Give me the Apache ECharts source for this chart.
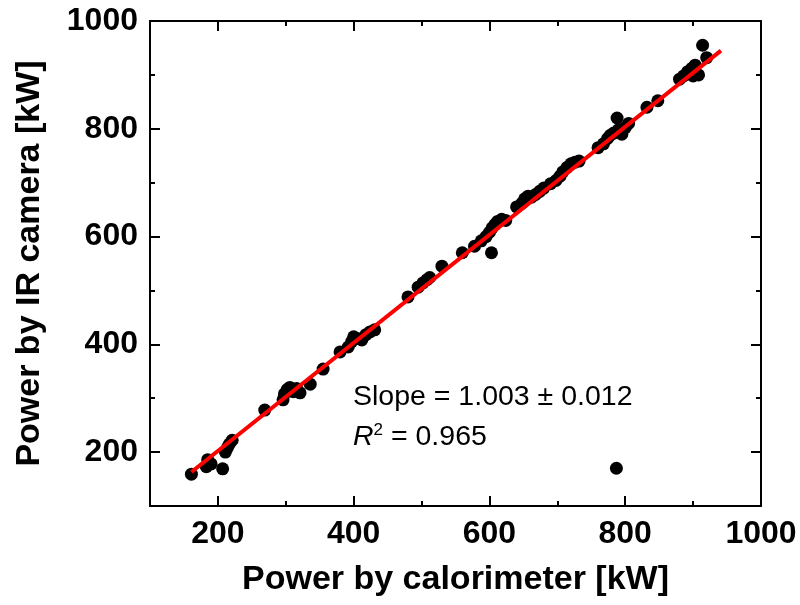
<!DOCTYPE html>
<html><head><meta charset="utf-8">
<script src="https://cdn.jsdelivr.net/npm/echarts@6/dist/echarts.min.js"></script>
<style>html,body{margin:0;padding:0;background:#fff}#c{width:800px;height:605px}</style>
</head><body><div id="c"></div>
<script>
// Measured points: power by calorimeter (x) vs power by IR camera (y), kW
const calorimeterKW = [161,183,185,190,207,211,214,217,221,269,296,298,302,306,311,316,321,336,355,380,392,397,400,405,412,418,424,431,480,495,502,508,512,530,560,578,588,595,600,604,608,612,618,624,603,640,648,652,657,662,668,674,680,690,698,704,708,714,720,726,732,760,768,774,778,783,788,790,795,800,805,787,832,848,880,886,892,898,903,908,914,920,900];
const irCameraKW   = [159,173,186,178,169,200,208,215,222,278,297,308,316,320,312,318,310,326,354,386,395,405,414,411,408,418,423,427,488,506,514,520,524,545,570,582,592,600,608,616,622,628,632,630,570,655,662,670,675,673,678,684,690,698,704,712,720,728,735,738,740,765,772,782,788,792,820,798,790,802,810,170,840,852,892,898,906,912,918,900,955,932,898];
// Linear fit line end points
const fitX = [161, 941];
const fitY = [163, 945];
// Axis ticks
const majorTicks = [200, 400, 600, 800, 1000];
const minorTicks = [300, 500, 700, 900];
const axisMin = 100, axisMax = 1000;
const xTitle = 'Power by calorimeter [kW]';
const yTitle = 'Power by IR camera [kW]';
const slopeText = 'Slope = 1.003 \u00b1 0.012';
const r2Value = '0.965';

const FONT = '"Liberation Sans", Arial, Helvetica, sans-serif';
const chart = echarts.init(document.getElementById('c'), null, {renderer: 'canvas'});

function mkAxis(pos, ticks, len, showLabel, showLine, extra) {
  return Object.assign({
    type: 'value', position: pos, min: axisMin, max: axisMax,
    axisLine: {show: showLine, onZero: false, lineStyle: {color: '#000', width: 2}},
    axisTick: {show: true, inside: true, length: len, customValues: ticks, lineStyle: {color: '#000', width: 2}},
    axisLabel: {show: showLabel, customValues: ticks, formatter: v => String(v), color: '#000',
      fontFamily: FONT, fontWeight: 'bold', fontSize: 32, margin: 12},
    splitLine: {show: false}
  }, extra || {});
}

const fitData = fitX.map((x, i) => [x, fitY[i]]);
const pts = calorimeterKW.map((x, i) => [x, irCameraKW[i]]);

chart.setOption({
  animation: false,
  backgroundColor: '#fff',
  grid: {left: 150, right: 39, top: 21, bottom: 99, containLabel: false},
  xAxis: [
    mkAxis('bottom', majorTicks, 10, true, true, {name: xTitle, nameLocation: 'middle', nameGap: 57,
      nameTextStyle: {color: '#000', fontFamily: FONT, fontWeight: 'bold', fontSize: 34}}),
    mkAxis('bottom', minorTicks, 5, false, false),
    mkAxis('top', majorTicks, 10, false, true),
    mkAxis('top', minorTicks, 5, false, false)
  ],
  yAxis: [
    mkAxis('left', majorTicks, 10, true, true, {name: yTitle, nameLocation: 'middle', nameGap: 103,
      nameTextStyle: {color: '#000', fontFamily: FONT, fontWeight: 'bold', fontSize: 34}}),
    mkAxis('left', minorTicks, 5, false, false),
    mkAxis('right', majorTicks, 10, false, true),
    mkAxis('right', minorTicks, 5, false, false)
  ],
  series: [
    {type: 'scatter', xAxisIndex: 0, yAxisIndex: 0, data: pts, symbolSize: 13,
     itemStyle: {color: '#000', opacity: 1}, z: 2},
    {type: 'line', xAxisIndex: 0, yAxisIndex: 0, data: fitData, showSymbol: false, symbol: 'none',
     lineStyle: {color: '#ff0000', width: 4}, z: 3}
  ],
  graphic: [
    {type: 'text', left: 353, top: 383, style: {text: slopeText, fontFamily: FONT, fontSize: 28.5, fill: '#000'}},
    {type: 'text', left: 353, top: 422, style: {
      text: '{i|R}{s|2}{n| = ' + r2Value + '}',
      rich: {
        i: {fontFamily: FONT, fontSize: 28.5, fontStyle: 'italic', fill: '#000'},
        s: {fontFamily: FONT, fontSize: 17, fill: '#000', verticalAlign: 'top', padding: [0, 0, 14, 0]},
        n: {fontFamily: FONT, fontSize: 28.5, fill: '#000'}
      }}}
  ]
});
</script></body></html>
